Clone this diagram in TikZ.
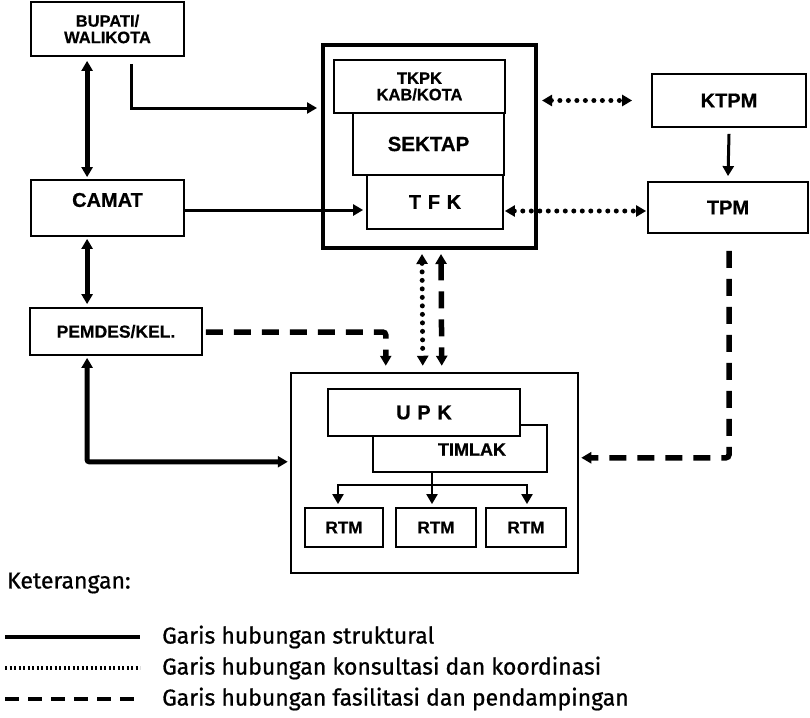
\documentclass[tikz,border=0pt]{standalone}
\usepackage{fontspec}
\setmainfont{Liberation Sans}[BoldFeatures={FakeBold=0.6}]
\newfontfamily\legendfont{Fira Sans}[FakeBold=0.8]
\usetikzlibrary{arrows.meta,calc}

\newcommand{\bfs}[1]{\bfseries\fontsize{#1}{#1}\selectfont}

\begin{document}
\begin{tikzpicture}[x=1pt,y=-1pt,
  box/.style={draw, line width=1.8pt, fill=white, inner sep=0pt, align=center},
  group/.style={draw, inner sep=0pt},
  lbl/.style={inner sep=0pt, align=center},
  tip/.style={-{Triangle[length=10pt,width=11pt]}},
  tips/.style={{Triangle[length=10pt,width=11pt]}-{Triangle[length=10pt,width=11pt]}},
  strong/.style={line width=5pt},
  medium/.style={line width=3pt},
  light/.style={line width=2.2pt},
  dotline/.style={line width=5pt, line cap=round, dash pattern=on 0pt off 8.5pt},
  dashline/.style={line width=5.5pt, dash pattern=on 17pt off 11pt},
  legtext/.style={inner sep=0pt, anchor=west, font=\legendfont\fontsize{23}{24}\selectfont}]

\useasboundingbox (0,0) rectangle (810,717);

% ---- left column ----
\node[box, minimum width=153, minimum height=54, font=\bfs{16.5}] (bupati) at (107.5,29) {BUPATI/\\WALIKOTA};
\node[box, minimum width=153, minimum height=56,
      label={[lbl, yshift=8pt, font=\bfs{20}]center:CAMAT}] (camat) at (107.5,208) {};
\node[box, minimum width=172, minimum height=47, font=\bfs{17.5}] (pemdes) at (116,331.5) {PEMDES/KEL.};

% ---- district team ----
\node[group, line width=4pt, minimum width=213, minimum height=203] (kab) at (429.5,146.5) {};
\node[box, minimum width=171, minimum height=53, font=\bfs{16.5}] (tkpk) at (419.5,86.5) {TKPK\\KAB/KOTA};
\node[box, minimum width=151, minimum height=62, font=\bfs{20.5}] (sektap) at (428.5,144) {SEKTAP};
\node[box, minimum width=136, minimum height=54, font=\bfs{20}] (tfk) at (435,202) {T\,\,F\,\,K};

% ---- right column ----
\node[box, minimum width=154, minimum height=53, font=\bfs{20}] (ktpm) at (729,100.5) {KTPM};
\node[box, minimum width=160, minimum height=51, font=\bfs{20}] (tpm) at (728,207.5) {TPM};

% ---- village unit ----
\node[group, line width=2.5pt, minimum width=287, minimum height=200] (upkbox) at (434.5,473) {};
\node[box, minimum width=174, minimum height=47, label={[lbl, xshift=12pt, yshift=-1pt, font=\bfs{18}]center:TIMLAK}] (timlak) at (460,448.5) {};
\node[box, minimum width=192, minimum height=47, font=\bfs{20}] (upk) at (424,412.5) {U\,\,P\,\,K};
\node[box, minimum width=78, minimum height=39, font=\bfs{17}] (rtm1) at (344,527.5) {RTM};
\node[box, minimum width=80, minimum height=39, font=\bfs{17}] (rtm2) at (436,527.5) {RTM};
\node[box, minimum width=80, minimum height=39, font=\bfs{17}] (rtm3) at (526,527.5) {RTM};

% ---- structural lines ----
\draw[strong, tips] ($(bupati.south west)+(57,4)$) -- ($(camat.north west)+(57,-2)$);
\draw[strong, tips] ($(camat.south west)+(57,2)$) -- ($(pemdes.north west)+(58,-3)$);
\draw[strong, tips, rounded corners=2pt] ($(pemdes.south west)+(58,2)$) |- ($(upkbox.north west)+(-2,90)$);
\draw[medium, tip] ($(bupati.south west)+(101,7)$) |- ($(kab.north west)+(-4,65)$);
\draw[medium, tip] ($(camat.east)+(0,2)$) coordinate (c1) -- ($(c1 -| tfk.west)+(-3,0)$);
\draw[medium, tip] ($(ktpm.south)+(0,6)$) -- ($(tpm.north)+(0,-5)$);

% TIMLAK to the three RTM boxes
\draw[light] ($(timlak.south)+(-28,0)$) -- ++(0,12) coordinate (br);
\draw[light, tip] (br) -| ($(rtm1.north)+(-6,-3)$);
\draw[light, tip] (br) -| ($(rtm3.north)+(1,-3)$);
\draw[light, tip] (br) -- ($(br |- rtm2.north)+(0,-3)$);

% ---- consultation and coordination lines ----
\draw[dotline, tips] ($(kab.east |- ktpm.west)+(4,0)$) -- ($(ktpm.west)+(-19,0)$);
\draw[dotline, tips] ($(tfk.east)+(1,9)$) coordinate (d1) -- ($(d1 -| tpm.west)+(-1,0)$);
\draw[dotline, tips] ($(kab.south west)+(101,4)$) -- ($(upkbox.north west)+(133,-6)$);

% ---- facilitation and assistance lines ----
\draw[dashline, tips] ($(kab.south west)+(120,4)$) -- ($(upkbox.north west)+(152,-6)$);
\draw[dashline, tip, rounded corners=3pt] ($(pemdes.east)+(3,0.5)$) -| ($(upkbox.north west)+(96,-6)$);
\draw[dashline, tip, rounded corners=3pt] ($(tpm.south)+(1,17)$) |- ($(upkbox.north east)+(2,86)$);

% ---- legend ----
\node[legtext] (ket) at (7,583) {Keterangan:};
\coordinate (s1) at (5,637);   \coordinate (s2) at (140,637);
\coordinate (k1) at (5,668);   \coordinate (k2) at (140,668);
\coordinate (f1) at (5,699);   \coordinate (f2) at (140,699);
\draw[line width=4pt] (s1) -- (s2);
\draw[line width=3.4pt, dash pattern=on 2.2pt off 2.3pt] (k1) -- (k2);
\draw[line width=4.5pt, dash pattern=on 14pt off 9pt] (f1) -- (f2);
\node[legtext] (t1) at (162,637) {Garis hubungan struktural};
\node[legtext] (t2) at (162,668) {Garis hubungan konsultasi dan koordinasi};
\node[legtext] (t3) at (162,699) {Garis hubungan fasilitasi dan pendampingan};
\end{tikzpicture}
\end{document}
